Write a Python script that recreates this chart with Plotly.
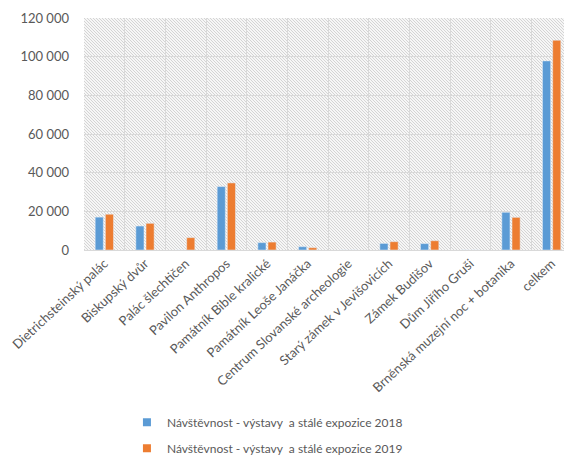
import base64
import plotly.graph_objects as go

categories = [
    "Dietrichsteinský palác", "Biskupský dvůr", "Palác šlechtičen", "Pavilon Anthropos",
    "Památník Bible kralické", "Památník Leoše Janáčka", "Centrum Slovanské archeologie",
    "Starý zámek v Jevišovicích", "Zámek Budišov", "Dům Jiřího Gruši",
    "Brněnská muzejní noc + botanika", "celkem",
]
visits_2018 = [17000, 12400, 0, 32800, 3800, 1700, 0, 3400, 3300, 0, 19500, 97800]
visits_2019 = [18500, 13800, 6400, 34700, 4100, 1200, 0, 4300, 4800, 0, 16900, 108500]
series_names = [
    "Návštěvnost - výstavy  a stálé expozice 2018",
    "Návštěvnost - výstavy  a stálé expozice 2019",
]
series_colors = ["#5b9bd5", "#ed7d31"]
y_tickvals = [0, 20000, 40000, 60000, 80000, 100000, 120000]
y_ticktext = ["0", "20 000", "40 000", "60 000", "80 000", "100 000", "120 000"]

FONT = "Lato, 'Open Sans', sans-serif"
GREY = "#595959"

svg = ('<svg xmlns="http://www.w3.org/2000/svg" width="488" height="232">'
       '<defs><pattern id="p" width="3" height="3" patternUnits="userSpaceOnUse">'
       '<path d="M-1,-1 L4,4 M-1,2 L1,4 M2,-1 L4,1" stroke="#d0d0d0" stroke-width="0.9"/></pattern></defs>'
       '<rect width="100%" height="100%" fill="#f6f6f6"/>'
       '<rect width="100%" height="100%" fill="url(#p)"/></svg>')
svg_uri = "data:image/svg+xml;base64," + base64.b64encode(svg.encode()).decode()

fig = go.Figure()
for vals, name, col in zip([visits_2018, visits_2019], series_names, series_colors):
    fig.add_trace(go.Bar(x=categories, y=vals, name=name, marker_color=col,
                         showlegend=False))
for name, col, grp in zip(series_names, series_colors, ["a", "b"]):
    fig.add_trace(go.Scatter(x=[None], y=[None], mode="markers", name=name,
                             legendgroup=grp,
                             marker=dict(symbol="square", size=8, color=col)))

fig.update_layout(
    width=564, height=447,
    margin=dict(l=76, r=0, t=10, b=205, autoexpand=False),
    paper_bgcolor="white",
    plot_bgcolor="rgba(0,0,0,0)",
    barmode="group", bargap=0.5, bargroupgap=0.2,
    font=dict(family=FONT, size=11, color=GREY),
    images=[dict(source=svg_uri, xref="paper", yref="paper", x=0, y=1,
                 sizex=1, sizey=1, sizing="stretch", layer="below",
                 xanchor="left", yanchor="top")],
    legend=dict(orientation="v", x=0.088, xanchor="left", y=-0.68, yanchor="top",
                font=dict(size=12, color=GREY), tracegroupgap=7,
                itemwidth=30, bgcolor="rgba(0,0,0,0)"),
)
fig.update_xaxes(type="category", tickson="boundaries", showgrid=True,
                 gridcolor="#d9d9d9", gridwidth=1, tickangle=-43, ticks="",
                 showline=True, linecolor="#d9d9d9", automargin=False,
                 tickfont=dict(size=13, color=GREY))
fig.update_yaxes(range=[0, 120000], tickvals=y_tickvals, ticktext=y_ticktext,
                 showgrid=True, gridcolor="#d9d9d9", gridwidth=1, zeroline=False,
                 ticks="", ticklabelstandoff=14, automargin=False,
                 tickfont=dict(size=13, color=GREY))

fig.write_html("out.html")
